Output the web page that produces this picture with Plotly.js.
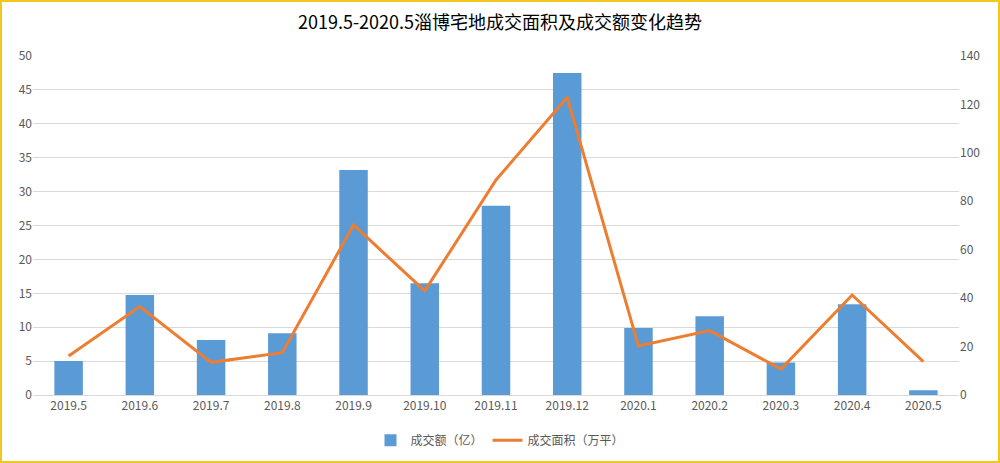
<!DOCTYPE html>
<html>
<head>
<meta charset="utf-8">
<script src="https://cdn.plot.ly/plotly-3.0.1.min.js"></script>
<style>
html,body{margin:0;padding:0;background:#fff;}
#wrap{width:1000px;height:463px;box-sizing:border-box;border:2px solid #f2c81e;}
#chart{width:996px;height:459px;}
</style>
</head>
<body>
<div id="wrap"><div id="chart"></div></div>
<script>
const months = ["2019.5","2019.6","2019.7","2019.8","2019.9","2019.10","2019.11","2019.12","2020.1","2020.2","2020.3","2020.4","2020.5"];
const amount = [5.0, 14.75, 8.1, 9.1, 33.2, 16.5, 27.9, 47.5, 9.9, 11.6, 4.8, 13.4, 0.7];
const area = [16.1, 36.5, 13.5, 17.5, 70.2, 43, 88.8, 123, 20.2, 26.6, 10.7, 41.3, 13.8];
const leftTicks = [0,5,10,15,20,25,30,35,40,45,50];
const rightTicks = [0,20,40,60,80,100,120,140];

const font = "'Noto Sans CJK SC', 'Noto Sans', sans-serif";
const traces = [
  {type:'bar', x: months, y: amount, name:'成交额（亿）', marker:{color:'#5b9bd5'}, yaxis:'y'},
  {type:'scatter', mode:'lines', x: months, y: area, name:'成交面积（万平）', line:{color:'#ed7d31', width:3}, yaxis:'y2'}
];
const layout = {
  width:996, height:459,
  margin:{l:31, r:39, t:54, b:66},
  paper_bgcolor:'#fff', plot_bgcolor:'#fff',
  font:{family:font, size:12, color:'#595959'},
  title:{text:'2019.5-2020.5淄博宅地成交面积及成交额变化趋势', font:{family:font, size:18, color:'#000'}, x:0.5, xanchor:'center', y:0.955, yanchor:'middle'},
  bargap:0.6,
  showlegend:true,
  legend:{orientation:'h', xref:'container', yref:'container', x:0.5, xanchor:'center', y:0.045, yanchor:'middle', font:{size:12, color:'#595959'}, traceorder:'normal', itemwidth:30},
  xaxis:{type:'category', tickvals: months, ticktext: months, showgrid:false, showline:true, linecolor:'#d9d9d9', ticks:'', tickfont:{size:12, color:'#595959'}, automargin:false},
  yaxis:{range:[0,50], tickvals:leftTicks, showgrid:true, gridcolor:'#d9d9d9', zeroline:false, ticks:'', tickfont:{size:12,color:'#595959'}, automargin:false},
  yaxis2:{range:[0,140], tickvals:rightTicks, overlaying:'y', side:'right', showgrid:false, zeroline:false, ticks:'', tickfont:{size:12,color:'#595959'}, automargin:false}
};
Plotly.newPlot('chart', traces, layout, {displayModeBar:false, staticPlot:true});
</script>
</body>
</html>
